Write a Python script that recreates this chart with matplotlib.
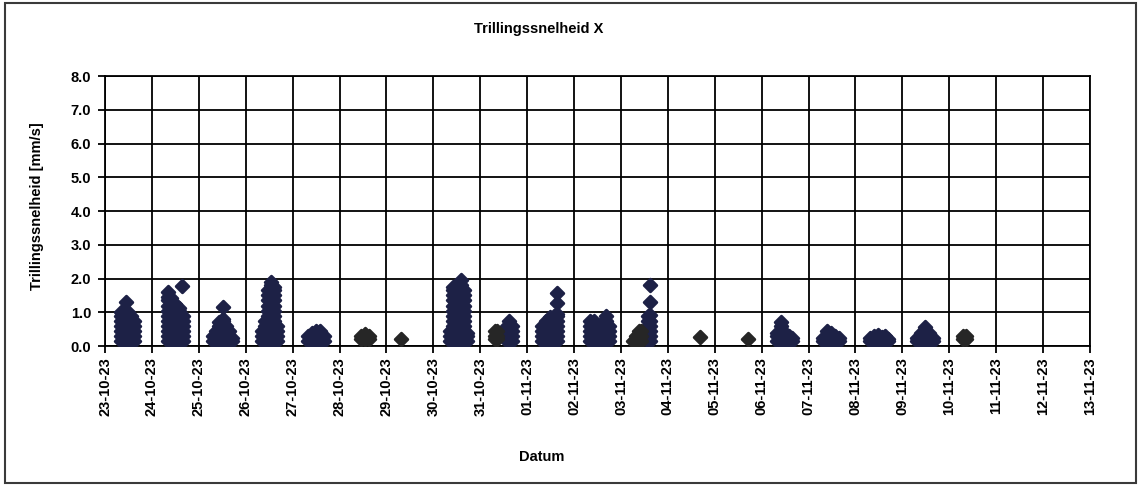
import matplotlib
matplotlib.use("Agg")
import matplotlib.pyplot as plt
import matplotlib.dates as mdates
from matplotlib import font_manager as fm
from matplotlib.patches import Rectangle
import numpy as np

# ---------------- text ----------------
title = "Trillingssnelheid X"
y_label = "Trillingssnelheid [mm/s]"
x_label = "Datum"
x_start = "2023-10-23"
x_end = "2023-11-13"
y_ticks = [0.0, 1.0, 2.0, 3.0, 4.0, 5.0, 6.0, 7.0, 8.0]

# ---------------- data: hour of day -> measured values [mm/s] ----------------
d_23_10 = {8.0: [0.15, 0.3, 0.45, 0.6, 0.75, 0.9, 1.0],
           10.0: [0.15, 0.3, 0.45, 0.6, 0.75, 0.9, 1.0],
           11.0: [1.3],
           12.0: [0.15, 0.3, 0.45, 0.6, 0.75, 0.9, 1.0],
           13.5: [0.15, 0.3, 0.45, 0.6, 0.75, 0.9],
           15.0: [0.15, 0.3, 0.45, 0.6, 0.75]}
d_24_10 = {8.0: [0.15, 0.3, 0.45, 0.6, 0.75, 0.9, 1.05, 1.2, 1.35, 1.45],
           8.3: [1.6],
           10.0: [0.15, 0.3, 0.45, 0.6, 0.75, 0.9, 1.05, 1.2, 1.3, 1.42],
           12.0: [0.15, 0.3, 0.45, 0.6, 0.75, 0.9, 1.05, 1.2, 1.25],
           14.0: [0.15, 0.3, 0.45, 0.6, 0.75, 0.9, 1.05, 1.12],
           15.2: [1.78],
           16.0: [0.15, 0.3, 0.45, 0.6, 0.75, 0.9]}
d_25_10 = {7.5: [0.15, 0.3],
           9.0: [0.15, 0.3, 0.45],
           10.5: [0.15, 0.3, 0.45, 0.6, 0.7],
           12.4: [0.15, 0.3, 0.45, 0.6, 0.75, 0.8, 1.17],
           14.0: [0.15, 0.3, 0.45, 0.6],
           15.5: [0.15, 0.3, 0.45],
           17.0: [0.15, 0.25]}
d_26_10 = {8.5: [0.15, 0.3, 0.45],
           10.0: [0.15, 0.3, 0.45, 0.6, 0.75],
           11.5: [0.15, 0.3, 0.45, 0.6, 0.75, 0.9, 1.05, 1.2, 1.35, 1.5, 1.65],
           13.0: [0.15, 0.3, 0.45, 0.6, 0.75, 0.9, 1.05, 1.2, 1.35, 1.5, 1.65, 1.8, 1.9],
           14.5: [0.15, 0.3, 0.45, 0.6, 0.75, 0.9, 1.05, 1.2, 1.35, 1.5, 1.65, 1.75],
           16.0: [0.15, 0.3, 0.45, 0.6]}
d_27_10 = {8.0: [0.15, 0.3],
           10.0: [0.15, 0.3, 0.4],
           12.0: [0.15, 0.3, 0.45],
           14.0: [0.15, 0.3, 0.45],
           16.0: [0.15, 0.3]}
d_30_10 = {8.5: [0.15, 0.3, 0.45],
           10.0: [0.15, 0.3, 0.45, 0.6, 0.75, 0.9, 1.05, 1.2, 1.35, 1.5, 1.65, 1.75],
           12.0: [0.15, 0.3, 0.45, 0.6, 0.75, 0.9, 1.05, 1.2, 1.35, 1.5, 1.65, 1.8],
           14.0: [0.15, 0.3, 0.45, 0.6, 0.75, 0.9, 1.05, 1.2, 1.35, 1.5, 1.65, 1.8, 1.95],
           15.5: [0.15, 0.3, 0.45, 0.6, 0.75, 0.9, 1.05, 1.2, 1.35, 1.5, 1.65],
           17.0: [0.15, 0.3, 0.4]}
d_31_10 = {13.5: [0.15, 0.3, 0.45, 0.6],
           14.8: [0.15, 0.3, 0.45, 0.6, 0.75],
           16.0: [0.15, 0.3, 0.45, 0.6]}
d_01_11 = {7.5: [0.15, 0.3, 0.45, 0.6],
           9.5: [0.15, 0.3, 0.45, 0.6, 0.75],
           11.5: [0.15, 0.3, 0.45, 0.6, 0.75, 0.85],
           13.5: [0.15, 0.3, 0.45, 0.6, 0.75, 0.9],
           15.2: [0.15, 0.3, 0.45, 0.6, 0.75, 0.9, 0.95, 1.27, 1.57]}
d_02_11 = {8.0: [0.15, 0.3, 0.45, 0.6, 0.75],
           10.0: [0.15, 0.3, 0.45, 0.6, 0.75],
           12.0: [0.15, 0.3, 0.45, 0.6],
           14.0: [0.15, 0.3, 0.45, 0.6, 0.65],
           16.3: [0.15, 0.3, 0.45, 0.6, 0.75, 0.88],
           18.0: [0.15, 0.3, 0.45, 0.6]}
d_03_11 = {14.0: [0.15, 0.3, 0.45, 0.6, 0.75, 0.9],
           15.0: [0.15, 0.3, 0.45, 0.6, 0.75, 0.92, 1.31, 1.8]}
d_06_11 = {8.0: [0.15, 0.3, 0.4],
           10.0: [0.15, 0.3, 0.45, 0.6, 0.72],
           12.0: [0.15, 0.3, 0.4],
           14.0: [0.15, 0.3],
           15.5: [0.15, 0.25]}
d_07_11 = {7.5: [0.15, 0.25],
           9.5: [0.15, 0.3, 0.43],
           11.5: [0.15, 0.3, 0.4],
           13.5: [0.15, 0.3],
           15.5: [0.15, 0.25]}
d_08_11 = {7.5: [0.15, 0.25],
           9.5: [0.15, 0.3],
           11.5: [0.15, 0.33],
           13.5: [0.15, 0.28],
           15.0: [0.15, 0.3],
           16.5: [0.15, 0.2]}
d_09_11 = {7.5: [0.15, 0.25],
           9.5: [0.15, 0.3, 0.4],
           11.5: [0.15, 0.3, 0.45, 0.55],
           13.5: [0.15, 0.3, 0.4],
           15.5: [0.15, 0.25]}

# second (darker) series
k_28_10 = {11.0: [0.2, 0.3], 13.0: [0.2, 0.35], 15.0: [0.2, 0.3]}
k_29_10 = {7.5: [0.22]}
k_31_10 = {7.5: [0.2, 0.3, 0.45], 8.5: [0.2, 0.3, 0.45]}
k_03_11 = {6.0: [0.15], 7.5: [0.15, 0.3], 9.0: [0.15, 0.3, 0.45], 10.5: [0.15, 0.3, 0.45]}
k_04_11 = {16.5: [0.27]}
k_05_11 = {17.0: [0.2]}
k_10_11 = {7.0: [0.22, 0.3], 8.5: [0.22, 0.3]}

navy_days = [("2023-10-23", d_23_10), ("2023-10-24", d_24_10), ("2023-10-25", d_25_10),
             ("2023-10-26", d_26_10), ("2023-10-27", d_27_10), ("2023-10-30", d_30_10),
             ("2023-10-31", d_31_10), ("2023-11-01", d_01_11), ("2023-11-02", d_02_11),
             ("2023-11-03", d_03_11), ("2023-11-06", d_06_11), ("2023-11-07", d_07_11),
             ("2023-11-08", d_08_11), ("2023-11-09", d_09_11)]
dark_days = [("2023-10-28", k_28_10), ("2023-10-29", k_29_10), ("2023-10-31", k_31_10),
             ("2023-11-03", k_03_11), ("2023-11-04", k_04_11), ("2023-11-05", k_05_11),
             ("2023-11-10", k_10_11)]


def to_xy(days):
    xs, ys = [], []
    for day, cols in days:
        base = mdates.date2num(np.datetime64(day))
        for hour, vals in cols.items():
            for v in vals:
                xs.append(base + hour / 24.0)
                ys.append(v)
    return xs, ys


def pick_font(names):
    for n in names:
        try:
            fm.findfont(fm.FontProperties(family=n), fallback_to_default=False)
            return n
        except Exception:
            continue
    return "DejaVu Sans"


base_font = pick_font(["Liberation Sans", "Arial", "DejaVu Sans"])
narrow_font = pick_font(["Liberation Sans Narrow", "Arial Narrow", base_font])
plt.rcParams['font.family'] = [base_font, 'DejaVu Sans']

fig = plt.figure(figsize=(11.41, 4.86), dpi=100)
W, H = 1141.0, 486.0
ax = fig.add_axes([105 / W, 1 - 346 / H, (1090 - 105) / W, (346 - 76) / H])

navy = "#1d2146"
dark = "#262626"
nx, ny = to_xy(navy_days)
kx, ky = to_xy(dark_days)
c1 = ax.scatter(nx, ny, marker='D', s=42, color=navy, edgecolors=navy, linewidths=2.0, zorder=3)
c2 = ax.scatter(kx, ky, marker='D', s=42, color=dark, edgecolors=dark, linewidths=2.0, zorder=3)
for c in (c1, c2):
    c.set_joinstyle('round')

ax.set_xlim(mdates.date2num(np.datetime64(x_start)), mdates.date2num(np.datetime64(x_end)))
ax.set_ylim(0, 8)
ax.set_yticks(y_ticks)
ax.yaxis.set_major_formatter(matplotlib.ticker.FormatStrFormatter('%.1f'))
ax.xaxis.set_major_locator(mdates.DayLocator())
ax.xaxis.set_major_formatter(mdates.DateFormatter('%d-%m-%y'))
for lab in ax.get_xticklabels():
    lab.set_rotation(90)

ax.grid(True, color='black', linewidth=1.3, zorder=1)
ax.set_axisbelow(True)
for sp in ax.spines.values():
    sp.set_color('black')
    sp.set_linewidth(1.3)
ax.tick_params(axis='both', direction='out', length=5, width=1.3, color='black',
               labelsize=10.5)
ax.tick_params(axis='x', pad=3)
ax.tick_params(axis='y', pad=5)
for lab in ax.get_xticklabels() + ax.get_yticklabels():
    lab.set_fontweight('bold')

fig.text(539 / W, 1 - 29 / H, title, ha='center', va='center', fontsize=10.5,
         fontweight='bold', family=[narrow_font, 'DejaVu Sans'])
fig.text(37 / W, 1 - 206 / H, y_label, ha='center', va='center', rotation=90,
         fontsize=10.5, fontweight='bold')
fig.text(542 / W, 1 - 457 / H, x_label, ha='center', va='center', fontsize=10.5,
         fontweight='bold')

fig.patches.append(Rectangle((5 / W, 3 / H), (1136 - 5) / W, (483 - 3) / H,
                             transform=fig.transFigure, fill=False,
                             edgecolor='#3a3a3a', linewidth=1.5))

fig.savefig("out.png", dpi=100)
